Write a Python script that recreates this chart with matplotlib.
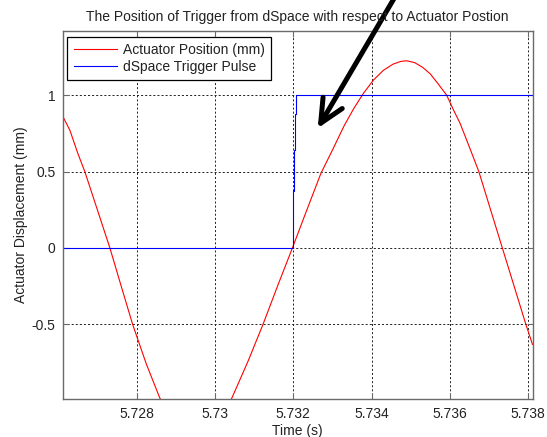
import matplotlib

matplotlib.use("Agg")
import matplotlib.pyplot as plt  # noqa: E402

plt.rcParams["font.family"] = ["Liberation Sans", "DejaVu Sans"]
plt.rcParams["font.size"] = 10

# actuator position (mm), sampled trace
t_pos = [5.72610, 5.72630, 5.72650, 5.72668, 5.72700, 5.72732, 5.72762, 5.72790,
         5.72825, 5.72859, 5.72890, 5.72920, 5.72950, 5.72980, 5.73010, 5.73044,
         5.73085, 5.73123, 5.73160, 5.73198, 5.73235, 5.73271, 5.73300, 5.73330,
         5.73355, 5.73380, 5.73405, 5.73430, 5.73455, 5.73475, 5.73490, 5.73510,
         5.73530, 5.73550, 5.73570, 5.73592, 5.73610, 5.73626, 5.73650, 5.73674,
         5.73704, 5.73734, 5.73764, 5.73794, 5.73811]
pos = [0.871, 0.77, 0.62, 0.50, 0.25, 0.00, -0.26, -0.50,
       -0.76, -0.98, -1.13, -1.22, -1.26, -1.24, -1.15, -0.98,
       -0.74, -0.50, -0.25, 0.00, 0.25, 0.49, 0.64, 0.80,
       0.915, 1.015, 1.10, 1.163, 1.204, 1.222, 1.226, 1.214,
       1.184, 1.140, 1.075, 1.00, 0.90, 0.817, 0.66, 0.50,
       0.25, 0.00, -0.25, -0.50, -0.632]

# dSpace trigger pulse
t_trig = [5.72610, 5.73199, 5.73199, 5.73203, 5.73203, 5.73205, 5.73205,
          5.73208, 5.73208, 5.73811]
trig = [0, 0, 0.37, 0.37, 0.64, 0.64, 0.88, 0.88, 1, 1]

xticks = [5.728, 5.730, 5.732, 5.734, 5.736, 5.738]
xticklabels = ["5.728", "5.73", "5.732", "5.734", "5.736", "5.738"]
yticks = [-0.5, 0, 0.5, 1]
yticklabels = ["-0.5", "0", "0.5", "1"]

W, H = 547, 437
fig = plt.figure(figsize=(W / 100, H / 100), dpi=100)
ax = fig.add_axes([62.5 / W, 1 - 398.5 / H, 470 / W, 367.5 / H])

ax.plot(t_pos, pos, color="#ff0000", lw=0.8, label="Actuator Position (mm)")
ax.plot(t_trig, trig, color="#0000ff", lw=0.8, label="dSpace Trigger Pulse")

ax.set_xlim(5.72611, 5.73811)
ax.set_ylim(-0.986, 1.421)
ax.set_xticks(xticks, xticklabels)
ax.set_yticks(yticks, yticklabels)
ax.tick_params(direction="in", top=True, right=True, length=4, width=0.8,
               color="#6a6a6a", labelcolor="#222222", pad=5)
ax.tick_params(axis="x", pad=6)
for s in ax.spines.values():
    s.set_color("#6a6a6a")
    s.set_linewidth(1.0)
ax.grid(True, color="#222222", lw=0.7, linestyle=(0, (2.1, 2.1)))

ax.set_title("The Position of Trigger from dSpace with respect to Actuator Postion",
             color="#222222", fontsize=10, pad=7)
ax.set_xlabel("Time (s)", color="#222222", labelpad=2)
ax.set_ylabel("Actuator Displacement (mm)", color="#222222", labelpad=3)

leg = ax.legend(loc="upper left", bbox_to_anchor=(0.0102, 0.9845), borderaxespad=0,
                fancybox=False, framealpha=1, edgecolor="black", handlelength=3.1,
                handletextpad=0.45, borderpad=0.45, labelspacing=0.22)
leg.get_frame().set_linewidth(0.9)
for txt in leg.get_texts():
    txt.set_color("#222222")

# thick pointer coming down from above the title onto the trigger edge
ax.annotate("", xy=(317.7, H - 128.3), xycoords="figure pixels",
            xytext=(395.5, H + 4), textcoords="figure pixels",
            arrowprops=dict(arrowstyle="->,head_length=17,head_width=8",
                            mutation_scale=1, lw=3.6, color="black",
                            shrinkA=0, shrinkB=0),
            annotation_clip=False)

fig.savefig("out.png", dpi=100)
